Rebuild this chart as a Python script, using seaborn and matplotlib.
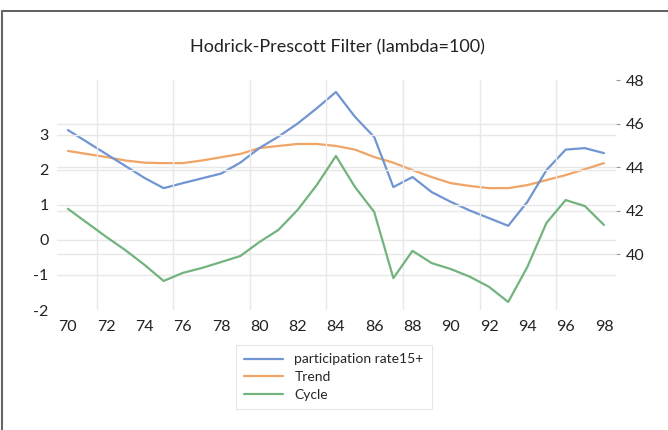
import numpy as np
import pandas as pd
import matplotlib
matplotlib.use("Agg")
import matplotlib.pyplot as plt
from matplotlib.lines import Line2D
import seaborn as sns

# yearly data 1970-1998, labelled by two-digit year
years = list(range(70, 99))
participation = [45.70, 45.15, 44.60, 44.05, 43.50, 43.03, 43.26, 43.48, 43.70, 44.20,
                 44.87, 45.40, 46.00, 46.70, 47.45, 46.30, 45.38, 43.08, 43.54, 42.85,
                 42.40, 42.00, 41.65, 41.30, 42.40, 43.86, 44.80, 44.87, 44.64]
trend = [44.74, 44.60, 44.46, 44.30, 44.20, 44.18, 44.18, 44.30, 44.45, 44.60,
         44.87, 44.97, 45.06, 45.06, 44.97, 44.80, 44.46, 44.20, 43.86, 43.54,
         43.26, 43.13, 43.03, 43.03, 43.17, 43.40, 43.63, 43.90, 44.18]
cycle = [0.89, 0.49, 0.09, -0.29, -0.71, -1.17, -0.94, -0.80, -0.63, -0.46,
         -0.06, 0.29, 0.86, 1.57, 2.40, 1.51, 0.80, -1.09, -0.31, -0.66,
         -0.83, -1.05, -1.34, -1.77, -0.77, 0.49, 1.14, 0.97, 0.43]

x_ticks = list(range(70, 100, 2))
left_ticks = [-2, -1, 0, 1, 2, 3]
right_ticks = [40, 42, 44, 46, 48]

blue, orange, green = "#7095d2", "#f0a466", "#72b37e"

sns.set_style("white")
plt.rcParams["font.family"] = ["Lato", "DejaVu Sans"]

df = pd.DataFrame({"year": years, "participation rate15+": participation,
                   "Trend": trend, "Cycle": cycle})

fig = plt.figure(figsize=(6.68, 4.30), dpi=100)
ax = fig.add_axes([57 / 668, 1 - 310 / 430, (616 - 57) / 668, (310 - 80) / 430])
ax2 = ax.twinx()

grid_c = "#e8e8e8"
# vertical gridlines (offset from the labels as in the source)
for gx in np.arange(71.5, 98, 4):
    ax.axvline(gx, color=grid_c, lw=1, zorder=0)
for gy in left_ticks[1:]:
    ax.axhline(gy, color=grid_c, lw=1, zorder=0)
for gy in right_ticks[:-1]:
    ax2.axhline(gy, color=grid_c, lw=1, zorder=0)

sns.lineplot(data=df, x="year", y="Cycle", ax=ax, color=green, lw=1.6, legend=False)
sns.lineplot(data=df, x="year", y="Trend", ax=ax2, color=orange, lw=1.6, legend=False)
sns.lineplot(data=df, x="year", y="participation rate15+", ax=ax2, color=blue, lw=1.6,
             legend=False)

ax.set_xlim(69.43, 98.63)
ax.set_ylim(-2, 4.57)
ax2.set_ylim(37.43, 48.0)

ax.set_xticks(x_ticks)
ax.set_xticklabels([str(v) for v in x_ticks], fontsize=11.5, color="#222222")
ax.set_yticks(left_ticks)
ax.set_yticklabels([str(v) for v in left_ticks], fontsize=11.5, color="#222222")
ax2.set_yticks(right_ticks)
ax2.set_yticklabels([str(v) for v in right_ticks], fontsize=11.5, color="#222222")
ax.tick_params(axis="x", length=0, pad=7)
ax.tick_params(axis="y", length=0, pad=6)
ax2.tick_params(axis="y", length=3, width=0.8, color="#999999", pad=4)

for a in (ax, ax2):
    for s in a.spines.values():
        s.set_visible(False)
    a.set_xlabel("")
    a.set_ylabel("")
ax.set_zorder(ax2.get_zorder() + 1)
ax.patch.set_visible(False)

fig.text(0.505, 1 - 47 / 430, "Hodrick-Prescott Filter (lambda=100)",
         ha="center", va="center", fontsize=13, color="#222222")

handles = [Line2D([], [], color=blue, lw=1.6),
           Line2D([], [], color=orange, lw=1.6),
           Line2D([], [], color=green, lw=1.6)]
leg = fig.legend(handles, ["participation rate15+", "Trend", "Cycle"],
                 loc="center", bbox_to_anchor=(334 / 668, 1 - 377 / 430),
                 fontsize=10, frameon=True, fancybox=False, handlelength=2.8,
                 labelspacing=0.4, borderpad=0.6, handletextpad=0.8)
leg.get_frame().set_edgecolor("#e0e0e0")
leg.get_frame().set_linewidth(0.8)

# screenshot frame: top and left border
fig.add_artist(Line2D([2 / 668, 1], [1 - 11 / 430, 1 - 11 / 430],
                      transform=fig.transFigure, color="#444444", lw=1.2))
fig.add_artist(Line2D([2 / 668, 2 / 668], [0, 1 - 11 / 430],
                      transform=fig.transFigure, color="#666666", lw=1.5))

fig.savefig("out.png", dpi=100)
